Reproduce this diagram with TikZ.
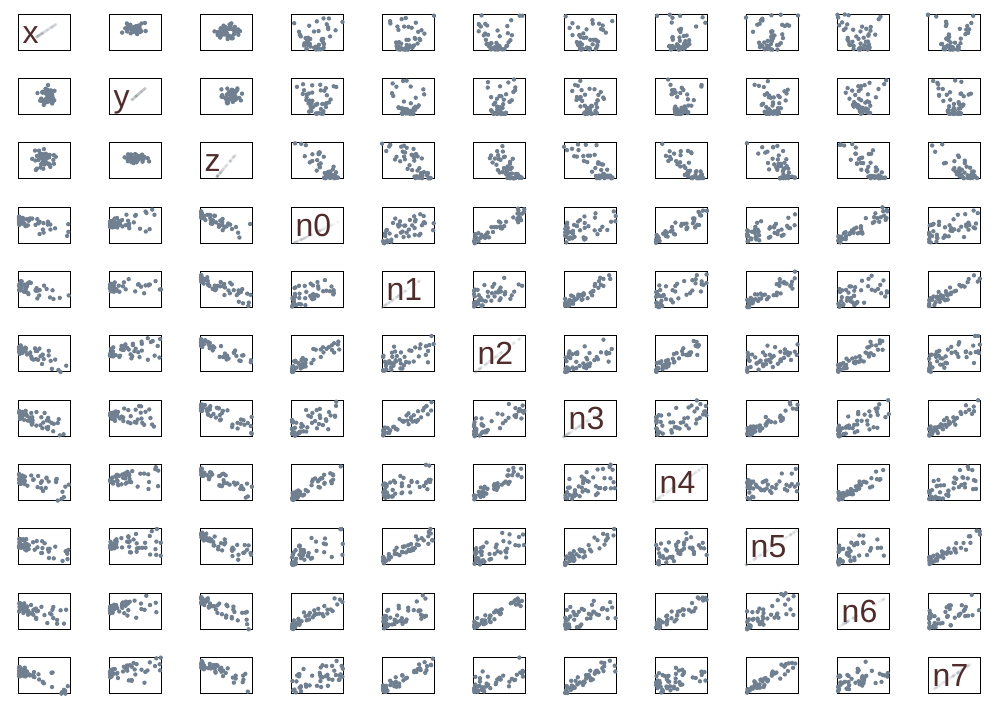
\documentclass[tikz,border=0pt]{standalone}
\usepackage{fontspec}
\setmainfont{Liberation Sans}
\definecolor{dotc}{HTML}{708090}
\definecolor{labc}{RGB}{80,44,44}
\tikzset{
 pbox/.style={draw=black, line width=1pt, minimum width=52pt, minimum height=36pt, inner sep=0pt, outer sep=0pt, anchor=north west},
 dotst/.style={fill=dotc},
 diagst/.style={fill=dotc!60!gray, opacity=0.1},
 lab/.style={text=labc, font=\fontsize{32}{32}\selectfont, anchor=base west, inner sep=0pt}
}
\newcommand\qG{(rnd+rnd+rnd-1.5)}
\newcommand\qR{(0.001+0.999*rnd)}
\newcommand\tC[4]{\pgfmathsetmacro\qX{#1+2*#3*\qG}\pgfmathsetmacro\qY{#2+2*#4*\qG}}
\newcommand\tA[4]{\pgfmathsetmacro\qT{0.02+0.98*\qR^2.2}\pgfmathsetmacro\qY{\qT}\pgfmathsetmacro\qX{min(max(#1+(#2)*\qT+(rnd-0.5)*(#3+#4*\qT),0),1)}}
\newcommand\tB[4]{\pgfmathsetmacro\qT{0.02+0.98*\qR^2.2}\pgfmathsetmacro\qX{\qT}\pgfmathsetmacro\qY{min(max(#1+(#2)*\qT+(rnd-0.5)*(#3+#4*\qT),0),1)}}
\newcommand\tN[1]{\pgfmathsetmacro\qX{0.02+0.98*\qR^1.8}\pgfmathsetmacro\qY{min(max(#1*\qX+(1-#1)*\qR^1.8+(rnd-0.5)*(0.06+0.35*\qX),0),1)}}
\newcommand\tD[4]{\pgfmathsetmacro\qT{\qR^1.4}\pgfmathsetmacro\qX{#1+(#3-#1)*\qT}\pgfmathsetmacro\qY{#2+(#4-#2)*\qT}}
\newcommand\scat[5]{%
  \pgfmathsetmacro\qBX{18+91*(#2-1)}%
  \pgfmathsetmacro\qBY{50.3+64.33*(#1-1)}%
  \foreach \k in {1,...,46}{#3\fill[#4] ({\qBX+52*\qX},{\qBY-36*\qY}) circle (#5);}}
\begin{document}
\begin{tikzpicture}[x=1pt,y=-1pt]
\pgfmathsetseed{12345}
\fill[white] (0,0) rectangle (1000,707);
\useasboundingbox (0,0) rectangle (1000,707);
% boxes
\foreach \i in {1,...,11}{\foreach \j in {1,...,11}{%
  \node[pbox] (b-\i-\j) at ({18+91*(\j-1)},{14.3+64.33*(\i-1)}) {};}}
% x y z among themselves
\scat{1}{2}{\tC{0.5}{0.6}{0.11}{0.08}}{dotst}{2.2pt}
\scat{1}{3}{\tC{0.52}{0.52}{0.12}{0.11}}{dotst}{2.2pt}
\scat{2}{1}{\tC{0.58}{0.5}{0.08}{0.12}}{dotst}{2.2pt}
\scat{2}{3}{\tC{0.6}{0.55}{0.09}{0.1}}{dotst}{2.2pt}
\scat{3}{1}{\tC{0.5}{0.55}{0.11}{0.12}}{dotst}{2.2pt}
\scat{3}{2}{\tC{0.52}{0.57}{0.11}{0.06}}{dotst}{2.2pt}
% rows x y z against n
\foreach \j in {4,...,11}{%
  \scat{1}{\j}{\tA{0.45}{0.05}{0.3}{0.9}}{dotst}{2.2pt}%
  \scat{2}{\j}{\tA{0.5}{0}{0.25}{0.7}}{dotst}{2.2pt}%
  \scat{3}{\j}{\tA{0.8}{-0.55}{0.3}{0.5}}{dotst}{2.2pt}}
% rows n against x y z
\foreach \i in {4,...,11}{%
  \scat{\i}{1}{\tB{0.62}{-0.4}{0.25}{0.5}}{dotst}{2.2pt}%
  \scat{\i}{2}{\tB{0.55}{0.1}{0.2}{0.7}}{dotst}{2.2pt}%
  \scat{\i}{3}{\tB{0.82}{-0.6}{0.2}{0.45}}{dotst}{2.2pt}}
% n against n
\foreach \i in {4,...,11}{\foreach \j in {4,...,11}{%
  \ifnum\i=\j\else
    \pgfmathsetmacro\qS{mod(\i+\j,2)==0 ? 0.78 : 0.45}%
    \scat{\i}{\j}{\tN{\qS}}{dotst}{2.2pt}%
  \fi}}
% diagonals
\scat{1}{1}{\tD{0.36}{0.37}{0.74}{0.73}}{diagst}{1.8pt}
\scat{2}{2}{\tD{0.44}{0.41}{0.72}{0.76}}{diagst}{1.8pt}
\scat{3}{3}{\tD{0.33}{0.07}{0.70}{0.70}}{diagst}{1.8pt}
\scat{4}{4}{\tD{0.05}{0.0}{0.92}{0.6}}{diagst}{1.8pt}
\scat{5}{5}{\tD{0.0}{0.0}{0.73}{0.75}}{diagst}{1.8pt}
\scat{6}{6}{\tD{0.05}{0.0}{0.94}{0.97}}{diagst}{1.8pt}
\scat{7}{7}{\tD{-0.01}{-0.02}{0.83}{0.8}}{diagst}{1.8pt}
\scat{8}{8}{\tD{-0.04}{-0.04}{1.0}{1.0}}{diagst}{1.8pt}
\scat{9}{9}{\tD{0.0}{0.0}{1.0}{0.98}}{diagst}{1.8pt}
\scat{10}{10}{\tD{0.04}{0.07}{1.0}{0.93}}{diagst}{1.8pt}
\scat{11}{11}{\tD{0.08}{0.09}{0.88}{0.88}}{diagst}{1.8pt}
% labels
\foreach \i/\nm in {1/x,2/y,3/z,4/n0,5/n1,6/n2,7/n3,8/n4,9/n5,10/n6,11/n7}{%
  \node[lab] (l-\i) at ([xshift=4.5pt,yshift=7pt]b-\i-\i.south west) {\nm};}
\end{tikzpicture}
\end{document}
